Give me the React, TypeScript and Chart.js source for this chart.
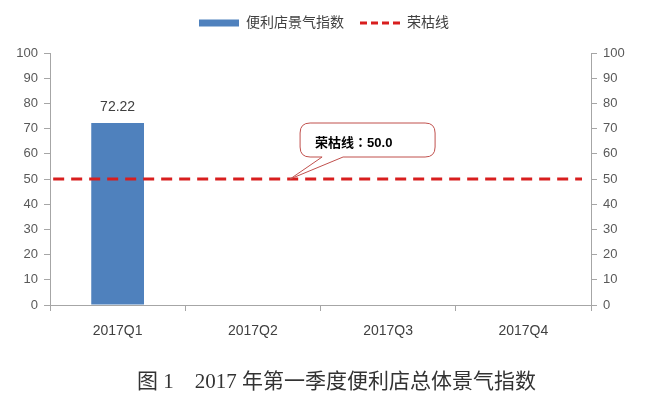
import React, { useEffect, useRef } from "react";
import { Chart, registerables } from "chart.js";

Chart.register(...registerables);

// ---- data ----
const categories = ["2017Q1", "2017Q2", "2017Q3", "2017Q4"];
const indexValues: (number | null)[] = [72.22, null, null, null];
const thresholdValue = 50;
const yMin = 0;
const yMax = 100;
const yStep = 10;
const barLabel = "便利店景气指数";
const lineLabel = "荣枯线";
const titleText = "图 1　2017 年第一季度便利店总体景气指数";

const FONT = '"Liberation Sans", "Noto Sans CJK SC", sans-serif';
const BAR_COLOR = "#4f81bd";
const LINE_COLOR = "#d81e1e";
const AXIS_COLOR = "#a6a6a6";
const LEGEND_BLOCK_HEIGHT = 53;

const legendHeightPlugin = {
  id: "legendHeight",
  afterInit(chart: any) {
    const legend = chart.legend;
    if (!legend) return;
    const orig = legend.fit.bind(legend);
    legend.fit = function () {
      orig();
      this.height = LEGEND_BLOCK_HEIGHT;
    };
  },
};

const valueLabelPlugin = {
  id: "valueLabel",
  afterDatasetsDraw(chart: any) {
    const meta = chart.getDatasetMeta(0);
    const ctx = chart.ctx;
    ctx.save();
    ctx.font = `14px ${FONT}`;
    ctx.fillStyle = "#404040";
    ctx.textAlign = "center";
    ctx.textBaseline = "middle";
    meta.data.forEach((el: any, i: number) => {
      const v = indexValues[i];
      if (v == null) return;
      ctx.fillText(v.toFixed(2), el.x, el.y - 16);
    });
    ctx.restore();
  },
};

const calloutPlugin = {
  id: "callout",
  afterDraw(chart: any) {
    const xs = chart.scales.xLine;
    const ys = chart.scales.y;
    const ax = xs.getPixelForValue(0.448);
    const ay = ys.getPixelForValue(thresholdValue);
    const L = ax + 10;
    const T = ay - 56;
    const W = 135;
    const H = 34;
    const R = L + W;
    const B = T + H;
    const r = 10;
    const p1 = ax + 32;
    const p2 = ax + 53;
    const ctx = chart.ctx;
    ctx.save();
    ctx.beginPath();
    ctx.moveTo(L + r, T);
    ctx.lineTo(R - r, T);
    ctx.quadraticCurveTo(R, T, R, T + r);
    ctx.lineTo(R, B - r);
    ctx.quadraticCurveTo(R, B, R - r, B);
    ctx.lineTo(p2, B);
    ctx.lineTo(ax, ay);
    ctx.lineTo(p1, B);
    ctx.lineTo(L + r, B);
    ctx.quadraticCurveTo(L, B, L, B - r);
    ctx.lineTo(L, T + r);
    ctx.quadraticCurveTo(L, T, L + r, T);
    ctx.closePath();
    ctx.fillStyle = "#ffffff";
    ctx.fill();
    ctx.lineWidth = 1;
    ctx.strokeStyle = "#c0504d";
    ctx.stroke();
    ctx.font = 'bold 13px "Liberation Sans", "Noto Sans CJK TC", sans-serif';
    ctx.fillStyle = "#000000";
    ctx.textAlign = "left";
    ctx.textBaseline = "middle";
    ctx.fillText(`${lineLabel}：${thresholdValue.toFixed(1)}`, L + 15, T + H / 2 + 3);
    ctx.restore();
  },
};

export default function App() {
  const canvasRef = useRef<HTMLCanvasElement | null>(null);

  useEffect(() => {
    const canvas = canvasRef.current;
    if (!canvas) return;
    const chart = new Chart(canvas, {
      type: "bar",
      data: {
        labels: categories,
        datasets: [
          {
            type: "bar",
            label: barLabel,
            data: indexValues,
            backgroundColor: BAR_COLOR,
            borderWidth: 0,
            grouped: false,
            barPercentage: 0.39,
            categoryPercentage: 1,
            xAxisID: "x",
            yAxisID: "y",
            order: 2,
          } as any,
          {
            type: "line",
            label: lineLabel,
            data: [
              { x: 0, y: thresholdValue },
              { x: 1, y: thresholdValue },
            ],
            borderColor: LINE_COLOR,
            backgroundColor: LINE_COLOR,
            borderWidth: 3,
            borderDash: [11, 7],
            pointRadius: 0,
            fill: false,
            xAxisID: "xLine",
            yAxisID: "y",
            order: 1,
          } as any,
        ],
      },
      options: {
        responsive: false,
        animation: false,
        devicePixelRatio: 1,
        layout: { padding: { top: 0, left: 0, right: 12, bottom: 50 } },
        font: { family: FONT },
        plugins: {
          legend: {
            position: "top",
            labels: {
              usePointStyle: true,
              pointStyleWidth: 40,
              boxHeight: 7,
              padding: 16,
              color: "#404040",
              font: { size: 14, family: FONT },
              sort: (a: any, b: any) => a.datasetIndex - b.datasetIndex,
              generateLabels(chart: any) {
                const items = Chart.defaults.plugins.legend.labels.generateLabels(chart);
                items.forEach((it: any) => {
                  if (it.datasetIndex === 0) {
                    it.pointStyle = "rect";
                    it.lineWidth = 0;
                    it.strokeStyle = BAR_COLOR;
                  } else {
                    it.pointStyle = "line";
                    it.lineDash = [7, 4];
                    it.lineWidth = 3;
                    it.strokeStyle = LINE_COLOR;
                  }
                });
                return items;
              },
            },
          },
          tooltip: { enabled: false },
          title: { display: false },
        },
        scales: {
          x: {
            type: "category",
            position: "bottom",
            offset: true,
            grid: {
              offset: true,
              drawOnChartArea: false,
              drawTicks: true,
              tickLength: 6,
              color: AXIS_COLOR,
            },
            border: { color: AXIS_COLOR },
            ticks: {
              color: "#404040",
              font: { size: 14, family: FONT },
              padding: 12,
              maxRotation: 0,
            },
            afterFit(scale: any) {
              scale.height = 40;
            },
          },
          xLine: {
            type: "linear",
            min: -0.006,
            max: 1.017,
            offset: false,
            display: false,
            grid: { offset: false },
          },
          y: {
            type: "linear",
            position: "left",
            min: yMin,
            max: yMax,
            ticks: {
              stepSize: yStep,
              color: "#595959",
              font: { size: 13, family: FONT },
              padding: 6,
            },
            grid: {
              drawOnChartArea: false,
              tickLength: 6,
              color: AXIS_COLOR,
            },
            border: { color: AXIS_COLOR },
            afterFit(scale: any) {
              scale.width = 50;
            },
          },
          y2: {
            type: "linear",
            position: "right",
            min: yMin,
            max: yMax,
            ticks: {
              stepSize: yStep,
              color: "#595959",
              font: { size: 13, family: FONT },
              padding: 6,
            },
            grid: {
              drawOnChartArea: false,
              tickLength: 6,
              color: AXIS_COLOR,
            },
            border: { color: AXIS_COLOR },
            afterFit(scale: any) {
              scale.width = 57;
            },
          },
        },
      } as any,
      plugins: [legendHeightPlugin, valueLabelPlugin, calloutPlugin],
    });
    return () => chart.destroy();
  }, []);

  return (
    <div
      style={{
        position: "absolute",
        left: 0,
        top: 0,
        width: 660,
        height: 395,
        background: "#ffffff",
        overflow: "hidden",
      }}
    >
      <canvas ref={canvasRef} width={660} height={395} style={{ display: "block" }} />
      <div
        style={{
          position: "absolute",
          left: 137,
          top: 368,
          fontFamily: '"Liberation Serif", "Noto Sans CJK SC", serif',
          fontSize: 21,
          lineHeight: "26px",
          color: "#333333",
          whiteSpace: "pre",
        }}
      >
        {titleText}
      </div>
    </div>
  );
}
